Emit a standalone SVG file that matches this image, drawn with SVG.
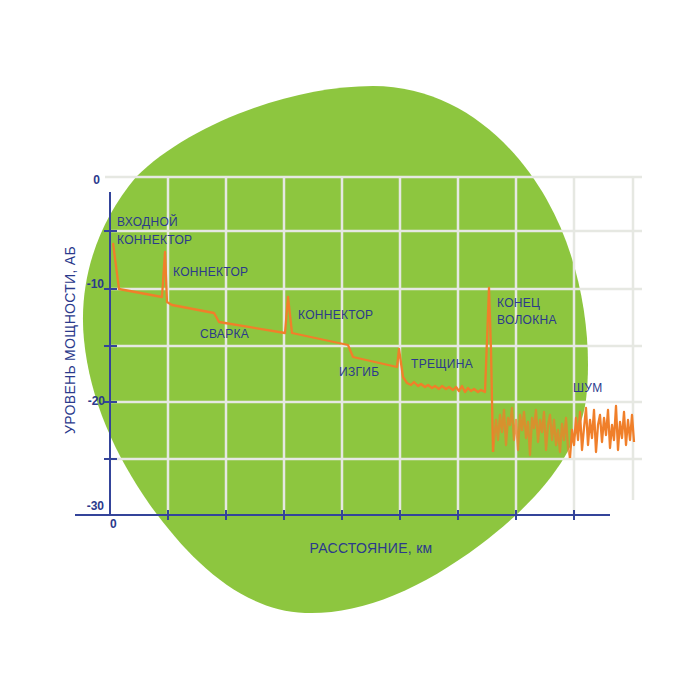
<svg xmlns="http://www.w3.org/2000/svg" width="686" height="685" viewBox="0 0 686 685">
<style>
.lbl{font-family:"Liberation Sans",Arial,sans-serif;font-size:12px;fill:#2b3a8c;letter-spacing:0.3px}
.tick{font-family:"Liberation Sans",Arial,sans-serif;font-size:12px;fill:#2b3a8c;font-weight:bold}
.grid line{stroke:#e6e8e2;stroke-width:2.5}
.axis{stroke:#34449a;stroke-width:2;fill:none}
.trace{stroke:#f07f2a;stroke-width:2.3;fill:none;stroke-linejoin:round}
</style>
<rect width="686" height="685" fill="#ffffff"/>
<g id="blob">
<path d="M373,86 C452,86 512,138 547,200 C582,262 593,340 586,400 C579,450 540,500 480,545 C420,590 360,615 305,613 C240,610 190,560 150,505 C115,455 90,400 84,340 C78,280 98,222 136,177 C188,125 290,86 373,86 Z" fill="#8dc63f"/>
</g>
<g id="grid" class="grid">
<line x1="105" y1="177" x2="642" y2="177"/>
<line x1="110" y1="231" x2="642" y2="231"/>
<line x1="110" y1="289" x2="642" y2="289"/>
<line x1="110" y1="346" x2="642" y2="346"/>
<line x1="110" y1="402" x2="642" y2="402"/>
<line x1="110" y1="459" x2="642" y2="459"/>
<line x1="168" y1="177" x2="168" y2="515"/>
<line x1="226" y1="177" x2="226" y2="515"/>
<line x1="284" y1="177" x2="284" y2="515"/>
<line x1="342" y1="177" x2="342" y2="515"/>
<line x1="400" y1="177" x2="400" y2="515"/>
<line x1="458" y1="177" x2="458" y2="515"/>
<line x1="516" y1="177" x2="516" y2="515"/>
<line x1="574" y1="177" x2="574" y2="515"/>
<line x1="633" y1="177" x2="633" y2="500"/>
</g>
<g id="axes">
<line class="axis" x1="110" y1="192" x2="110" y2="516"/>
<line class="axis" x1="75" y1="515" x2="610" y2="515"/>
<path class="axis" d="M104,231H117M104,289H117M104,346H117M104,402H117M104,459H117"/>
<path class="axis" stroke-width="1.5" d="M168,510V520M226,510V520M284,510V520M342,510V520M400,510V520M458,510V520M516,510V520M574,510V520"/>
<text class="tick" x="100" y="184" text-anchor="end">0</text>
<text class="tick" x="104" y="288" text-anchor="end">-10</text>
<text class="tick" x="105" y="405" text-anchor="end">-20</text>
<text class="tick" x="104" y="510" text-anchor="end">-30</text>
<text class="tick" x="110" y="528">0</text>
<text class="lbl" style="font-size:14px" x="371" y="553" text-anchor="middle">РАССТОЯНИЕ, км</text>
<text class="lbl" style="font-size:14px" transform="translate(75,340) rotate(-90)" text-anchor="middle">УРОВЕНЬ МОЩНОСТИ, АБ</text>
</g>
<g id="connectors">
<polyline class="trace" points="113,243 119,289 162,297 165,252 167,302 172,305 214,313 219,322 285,333 288,297 292,333 348,345 353,357 397,367 399,349 403,377 407,383 411,385 414,382 418,386 421,384 425,387 428,385 432,388 435,386 439,389 442,386 446,389 449,387 453,390 456,387 459,391 462,386 465,392 468,388 471,391 474,389 478,392 481,390 485,392 487,340 489,288 491,350 493,452"/>
<polyline class="trace" stroke-width="1.7" opacity="0.75" points="493,452 496,420 498,440 500,415 502,432 504,410 506,445 508,418 510,425 512,408 514,440 516,420 518,450 520,415 522,430 524,412 526,438 528,422 530,455 532,418 534,428 536,410 538,442 540,420 542,432 544,412 546,450 548,425 550,415 552,440 554,420 556,445 558,430 560,452 562,424 564,440 566,418 568,448 570,458"/>
<polyline class="trace" stroke-width="1.7" points="570,458 572,430 574,445 576,418 578,440 580,412 582,450 584,428 586,408 588,445 590,420 592,438 594,410 596,452 598,425 600,415 602,442 604,418 606,435 608,410 610,448 612,425 614,440 616,406 618,450 620,422 622,438 624,412 626,445 628,420 630,440 632,415 634,442"/>
</g>
<g id="labels">
<g id="n-input"><text class="lbl" x="117" y="226">ВХОДНОЙ</text><text class="lbl" x="117" y="244">КОННЕКТОР</text></g>
<g id="n-conn1"><text class="lbl" x="173" y="276">КОННЕКТОР</text></g>
<g id="n-weld"><text class="lbl" x="200" y="338">СВАРКА</text></g>
<g id="n-conn2"><text class="lbl" x="298" y="319">КОННЕКТОР</text></g>
<g id="n-bend"><text class="lbl" x="339" y="376">ИЗГИБ</text></g>
<g id="n-crack"><text class="lbl" x="411" y="368">ТРЕЩИНА</text></g>
<g id="n-end"><text class="lbl" x="497" y="307">КОНЕЦ</text><text class="lbl" x="497" y="324">ВОЛОКНА</text></g>
<g id="n-noise"><text class="lbl" x="573" y="392">ШУМ</text></g>
</g>
</svg>
